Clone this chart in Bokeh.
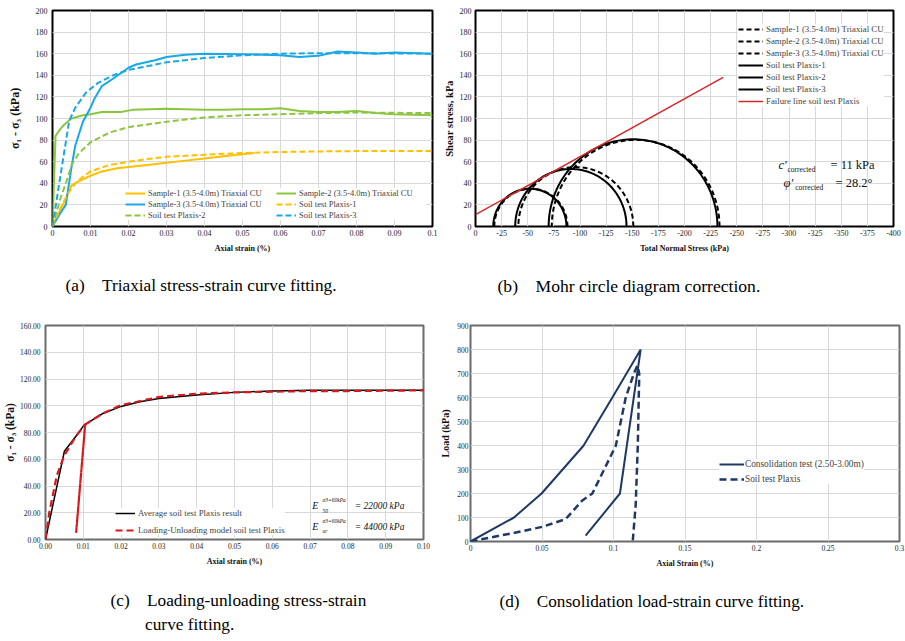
import numpy as np
from bokeh.plotting import figure
from bokeh.models import (Range1d, FixedTicker, NumeralTickFormatter, Legend,
                          LegendItem, Label, Title)
from bokeh.layouts import row, column
from bokeh.embed import file_html
from bokeh.resources import INLINE

FONT = "Liberation Serif"

# ---------------- (a) triaxial stress-strain ----------------
a_s1_x = [0, 0.001, 0.002, 0.003, 0.004, 0.005, 0.007, 0.010, 0.013, 0.017, 0.020,
          0.025, 0.030, 0.035, 0.040, 0.045, 0.050, 0.053]
a_s1_y = [0, 8, 15, 22, 30, 38, 42, 47, 51, 54, 55, 57, 59, 61, 63, 65, 67, 68]
a_p1_x = [0, 0.002, 0.004, 0.006, 0.008, 0.010, 0.015, 0.020, 0.025, 0.030, 0.040,
          0.050, 0.060, 0.070, 0.080, 0.100]
a_p1_y = [0, 16, 30, 40, 46, 51, 57, 60, 62.5, 64.5, 66.5, 68, 69, 69.5, 69.8, 70]
a_s2_x = [0, 0.0008, 0.002, 0.003, 0.005, 0.008, 0.010, 0.013, 0.018, 0.021, 0.030,
          0.035, 0.040, 0.045, 0.050, 0.055, 0.060, 0.065, 0.070, 0.075, 0.080,
          0.085, 0.090, 0.100]
a_s2_y = [0, 84, 90, 94, 100, 103, 104, 106, 106, 108, 109, 108.5, 108, 108, 108.5,
          108.5, 109.5, 107, 106, 106, 107, 105, 104, 103]
a_p2_x = [0, 0.002, 0.004, 0.005, 0.007, 0.010, 0.015, 0.020, 0.030, 0.040, 0.050,
          0.060, 0.070, 0.080, 0.100]
a_p2_y = [0, 25, 45, 57, 68, 78, 87, 92, 97, 101, 103, 104, 105, 105.5, 105]
a_s3_x = [0, 0.002, 0.0035, 0.005, 0.006, 0.008, 0.010, 0.011, 0.013, 0.016, 0.020,
          0.022, 0.027, 0.030, 0.035, 0.040, 0.050, 0.060, 0.065, 0.070, 0.075,
          0.080, 0.085, 0.090, 0.100]
a_s3_y = [0, 12, 20, 55, 75, 97, 110, 118, 130, 137, 147, 150, 154, 157, 159, 160,
          159.5, 158.5, 157, 158, 162, 161, 160, 161, 160]
a_p3_x = [0, 0.002, 0.0044, 0.006, 0.0088, 0.012, 0.016, 0.020, 0.030, 0.040, 0.050,
          0.060, 0.070, 0.080, 0.100]
a_p3_y = [0, 45, 98, 110, 124, 133, 140, 145, 152, 156, 158.5, 160, 160.5, 160.5, 160]
a_xticks = [0, 0.01, 0.02, 0.03, 0.04, 0.05, 0.06, 0.07, 0.08, 0.09, 0.1]
a_yticks = [0, 20, 40, 60, 80, 100, 120, 140, 160, 180, 200]

# ---------------- (b) Mohr circles ----------------
b_plx_s3 = [17, 38, 70]
b_plx_s1 = [87, 144.5, 231.5]
b_smp_s3 = [18, 41, 73]
b_smp_s1 = [88, 151, 233.5]
b_c_corr = 11.0
b_phi_corr = 28.2
b_line_sigma = [0, 237]
b_xticks = [0, -25, -50, -75, -100, -125, -150, -175, -200, -225, -250, -275, -300,
            -325, -350, -375, -400]
b_yticks = [0, 20, 40, 60, 80, 100, 120, 140, 160, 180, 200]

# ---------------- (c) loading-unloading ----------------
c_avg_x = [0, 0.005, 0.008, 0.0102, 0.015, 0.020, 0.025, 0.030, 0.040, 0.050, 0.060,
           0.070, 0.080, 0.090, 0.100]
c_avg_y = [0, 66, 77, 85.5, 94, 99.5, 103, 105.5, 108, 110, 111, 111.5, 111.5, 111.5,
           111.5]
c_lu_x = [0, 0.001, 0.003, 0.005, 0.008, 0.0105, 0.0081, 0.0105, 0.015, 0.020, 0.030,
          0.040, 0.050, 0.060, 0.070, 0.080, 0.100]
c_lu_y = [0, 20, 48, 63, 77, 86, 5, 86, 94, 100.5, 106.5, 109, 110, 110.5, 111, 111,
          111.5]
c_xticks = [0, 0.01, 0.02, 0.03, 0.04, 0.05, 0.06, 0.07, 0.08, 0.09, 0.1]
c_yticks = [0, 20, 40, 60, 80, 100, 120, 140, 160]

# ---------------- (d) consolidation ----------------
d_test_x = [0, 0.0304, 0.0497, 0.079, 0.0992, 0.119, 0.1045, 0.0805]
d_test_y = [0, 100, 200, 399, 600, 800, 200, 24]
d_plx_x = [0, 0.015, 0.030, 0.050, 0.0665, 0.078, 0.0852, 0.1016, 0.1086, 0.1144,
           0.1167, 0.118, 0.117, 0.1155, 0.1135]
d_plx_y = [0, 18, 35, 61, 93, 170, 200, 399, 601, 702, 733, 700, 400, 150, 5]
d_xticks = [0, 0.05, 0.1, 0.15, 0.2, 0.25, 0.3]
d_yticks = [0, 100, 200, 300, 400, 500, 600, 700, 800, 900]

ORANGE = "#FFC000"
GREEN = "#8CC63F"
BLUE = "#1AA7E6"
NAVY = "#1F3864"
RED_C = "#D7191C"
RED_B = "#D62728"


def style(p, outline, tick_size="8px", label_size="9px"):
    p.outline_line_color = outline
    p.outline_line_width = 2
    p.background_fill_color = "white"
    p.border_fill_color = "white"
    p.grid.grid_line_color = "#d9d9d9"
    p.grid.grid_line_width = 1
    for ax in p.axis:
        ax.axis_line_color = None
        ax.major_tick_line_color = None
        ax.minor_tick_line_color = None
        ax.major_tick_out = 0
        ax.major_tick_in = 0
        ax.minor_tick_out = 0
        ax.minor_tick_in = 0
        ax.major_label_text_font = FONT
        ax.major_label_text_font_size = tick_size
        ax.major_label_text_color = "#262626"
        ax.axis_label_text_font = FONT
        ax.axis_label_text_font_size = label_size
        ax.axis_label_text_font_style = "bold"
        ax.axis_label_text_color = "#111111"


def legend(items, loc, size, gw, lh, sp, **kw):
    lg = Legend(items=items, location=loc, label_text_font=FONT,
                label_text_font_size=size, glyph_width=gw, glyph_height=lh,
                label_height=lh, spacing=sp, padding=2, margin=0,
                label_standoff=3, background_fill_color="white",
                background_fill_alpha=1.0, border_line_color=None, **kw)
    return lg


def caption(text, offset, standoff, size="17.3px", lh=1.4):
    return Title(text=text, align="left", offset=offset, standoff=standoff,
                 text_font=FONT, text_font_size=size, text_line_height=lh,
                 text_font_style="normal", text_color="black")


SP = "\u00a0" * 4

# ======================= panel (a) =======================
pa = figure(frame_width=380, frame_height=216, min_border_left=52, min_border_right=8,
            min_border_top=10, min_border_bottom=84, x_range=Range1d(0, 0.1),
            y_range=Range1d(0, 200), output_backend="svg", toolbar_location=None)
style(pa, "black", label_size="12px")
pa.xaxis.ticker = FixedTicker(ticks=a_xticks)
pa.yaxis.ticker = FixedTicker(ticks=a_yticks)
pa.xaxis.formatter = NumeralTickFormatter(format="0.[00]")
pa.xaxis.axis_label = "Axial strain (%)"
pa.xaxis.axis_label_text_font_size = "8px"
pa.yaxis.axis_label = "σ\u2081 - σ\u2083 (kPa)"
pa.xaxis.major_label_standoff = 3
pa.xaxis.axis_label_standoff = 5
pa.yaxis.major_label_standoff = 5
pa.yaxis.axis_label_standoff = 11

r_s1 = pa.line(a_s1_x, a_s1_y, line_color=ORANGE, line_width=2)
r_s2 = pa.line(a_s2_x, a_s2_y, line_color=GREEN, line_width=2)
r_s3 = pa.line(a_s3_x, a_s3_y, line_color=BLUE, line_width=2)
r_p1 = pa.line(a_p1_x, a_p1_y, line_color=ORANGE, line_width=2, line_dash="6 3")
r_p2 = pa.line(a_p2_x, a_p2_y, line_color=GREEN, line_width=2, line_dash="6 3")
r_p3 = pa.line(a_p3_x, a_p3_y, line_color=BLUE, line_width=2, line_dash="6 3")
lga = legend([LegendItem(label="Sample-1 (3.5-4.0m) Triaxial CU", renderers=[r_s1]),
              LegendItem(label="Sample-2 (3.5-4.0m) Triaxial CU", renderers=[r_s2]),
              LegendItem(label="Sample-3 (3.5-4.0m) Triaxial CU", renderers=[r_s3]),
              LegendItem(label="Soil test Plaxis-1", renderers=[r_p1]),
              LegendItem(label="Soil test Plaxis-2", renderers=[r_p2]),
              LegendItem(label="Soil test Plaxis-3", renderers=[r_p3])],
             (73, 6), "8.5px", 20, 10, 1, ncols=2, orientation="horizontal",
             label_width=127)
pa.add_layout(lga)
pa.add_layout(caption("(a)" + SP + "Triaxial stress-strain curve fitting.", 13, 36), "below")

# ======================= panel (b) =======================
pb = figure(frame_width=418, frame_height=216, min_border_left=35, min_border_right=12,
            min_border_top=10, min_border_bottom=84, x_range=Range1d(0, -400),
            y_range=Range1d(0, 200), output_backend="svg", toolbar_location=None)
style(pb, "black", label_size="10.5px")
pb.xaxis.ticker = FixedTicker(ticks=b_xticks)
pb.yaxis.ticker = FixedTicker(ticks=b_yticks)
pb.xaxis.formatter = NumeralTickFormatter(format="0")
pb.xaxis.axis_label = "Total Normal Stress (kPa)"
pb.xaxis.axis_label_text_font_size = "8px"
pb.yaxis.axis_label = "Shear stress, kPa"
pb.xaxis.major_label_standoff = 3
pb.xaxis.axis_label_standoff = 5
pb.yaxis.major_label_standoff = 4
pb.yaxis.axis_label_standoff = 2

theta = np.linspace(0, np.pi, 181)


def semicircle(s3, s1):
    c = (s1 + s3) / 2.0
    r = (s1 - s3) / 2.0
    return list(-(c + r * np.cos(theta))), list(r * np.sin(theta))


smp_r = []
for s3, s1 in zip(b_smp_s3, b_smp_s1):
    xs, ys = semicircle(s3, s1)
    smp_r.append(pb.line(xs, ys, line_color="black", line_width=2, line_dash="5 3"))
plx_r = []
for s3, s1 in zip(b_plx_s3, b_plx_s1):
    xs, ys = semicircle(s3, s1)
    plx_r.append(pb.line(xs, ys, line_color="black", line_width=2))
fl_x = [-s for s in b_line_sigma]
fl_y = [b_c_corr + np.tan(np.radians(b_phi_corr)) * s for s in b_line_sigma]
r_fl = pb.line(fl_x, fl_y, line_color=RED_B, line_width=1.5)
b_items = [LegendItem(label=f"Sample-{i+1} (3.5-4.0m) Triaxial CU", renderers=[smp_r[i]])
           for i in range(3)]
b_items += [LegendItem(label=f"Soil test Plaxis-{i+1}", renderers=[plx_r[i]])
            for i in range(3)]
b_items.append(LegendItem(label="Failure line soil test Plaxis", renderers=[r_fl]))
lgb = legend(b_items, (263, 120), "8.8px", 25, 10, 2)
pb.add_layout(lgb)


def lab(p, x, y, text, size, style_="normal", bg=None):
    p.add_layout(Label(x=x, y=y, text=text, text_font=FONT, text_font_size=size,
                       text_font_style=style_, text_baseline="middle",
                       text_align="left", text_color="#111111",
                       background_fill_color=bg))


lab(pb, -290, 57.4, "c'", "12.5px", "italic")
lab(pb, -298.6, 52.8, "corrected", "7.5px")
lab(pb, -339.7, 57.4, "= 11 kPa", "12.5px")
lab(pb, -294.7, 40.7, "φ'", "12.5px", "italic")
lab(pb, -306, 36.1, "corrected", "7.5px")
lab(pb, -344.5, 40.7, "= 28.2°", "12.5px")
pb.add_layout(caption("(b)" + SP + "Mohr circle diagram correction.", 22, 36, "17.6px"),
              "below")

# ======================= panel (c) =======================
pc = figure(frame_width=378, frame_height=214, min_border_left=43, min_border_right=11,
            min_border_top=12, min_border_bottom=102, x_range=Range1d(0, 0.1),
            y_range=Range1d(0, 160), output_backend="svg", toolbar_location=None)
style(pc, "#6b6b6b", tick_size="7.5px", label_size="11.5px")
pc.xaxis.ticker = FixedTicker(ticks=c_xticks)
pc.yaxis.ticker = FixedTicker(ticks=c_yticks)
pc.xaxis.formatter = NumeralTickFormatter(format="0.00")
pc.yaxis.formatter = NumeralTickFormatter(format="0.00")
pc.xaxis.axis_label = "Axial strain (%)"
pc.xaxis.axis_label_text_font_size = "8px"
pc.yaxis.axis_label = "σ\u2081 - σ\u2083 (kPa)"
pc.xaxis.major_label_standoff = 3
pc.xaxis.axis_label_standoff = 5
pc.yaxis.major_label_standoff = 5
pc.yaxis.axis_label_standoff = 1

r_avg = pc.line(c_avg_x, c_avg_y, line_color="black", line_width=1.5)
r_lu = pc.line(c_lu_x, c_lu_y, line_color=RED_C, line_width=2.2, line_dash="7 4")
lgc = legend([LegendItem(label="Average soil test Plaxis result", renderers=[r_avg]),
              LegendItem(label="Loading-Unloading model soil test Plaxis", renderers=[r_lu])],
             (70, 4), "8.8px", 20, 10, 7)
pc.add_layout(lgc)
lab(pc, 0.0818, 25.4, "= 22000 kPa", "9.5px", "italic", "white")
lab(pc, 0.0818, 9.7, "= 44000 kPa", "9.5px", "italic", "white")
lab(pc, 0.0706, 25.4, "E", "10px", "italic")
lab(pc, 0.0733, 29.6, "σ3=60kPa", "5.5px", "italic")
lab(pc, 0.0733, 21.4, "50", "5.5px", "italic")
lab(pc, 0.0706, 9.7, "E", "10px", "italic")
lab(pc, 0.0733, 13.9, "σ3=60kPa", "5.5px", "italic")
lab(pc, 0.0733, 6.2, "ur", "5.5px", "italic")
pc.add_layout(caption("(c)" + SP + "Loading-unloading stress-strain\n"
                      + "\u00a0" * 8 + "curve fitting.", 65, 40, lh=1.25), "below")

# ======================= panel (d) =======================
pd_ = figure(frame_width=429, frame_height=216, min_border_left=36, min_border_right=8,
             min_border_top=12, min_border_bottom=100, x_range=Range1d(0, 0.3),
             y_range=Range1d(0, 900), output_backend="svg", toolbar_location=None)
style(pd_, "#6b6b6b", tick_size="7.5px", label_size="10px")
pd_.xaxis.ticker = FixedTicker(ticks=d_xticks)
pd_.yaxis.ticker = FixedTicker(ticks=d_yticks)
pd_.xaxis.formatter = NumeralTickFormatter(format="0.[00]")
pd_.xaxis.axis_label = "Axial Strain (%)"
pd_.xaxis.axis_label_text_font_size = "8px"
pd_.yaxis.axis_label = "Load (kPa)"
pd_.xaxis.major_label_standoff = 3
pd_.xaxis.axis_label_standoff = 5
pd_.yaxis.major_label_standoff = 2
pd_.yaxis.axis_label_standoff = 3

r_dt = pd_.line(d_test_x, d_test_y, line_color=NAVY, line_width=2)
r_dp = pd_.line(d_plx_x, d_plx_y, line_color=NAVY, line_width=2.5, line_dash="7 4")
lgd = legend([LegendItem(label="Consolidation test (2.50-3.00m)", renderers=[r_dt]),
              LegendItem(label="Soil test Plaxis", renderers=[r_dp])],
             (249, 57), "9.3px", 25, 10, 5)
lgd.label_standoff = 1
pd_.add_layout(lgd)
pd_.add_layout(caption("(d)" + SP + "Consolidation load-strain curve fitting.", 29, 38,
                       "17.2px"), "below")

layout = column(row(pa, pb), row(pc, pd_))
open("out.html", "w").write(file_html(layout, INLINE))
